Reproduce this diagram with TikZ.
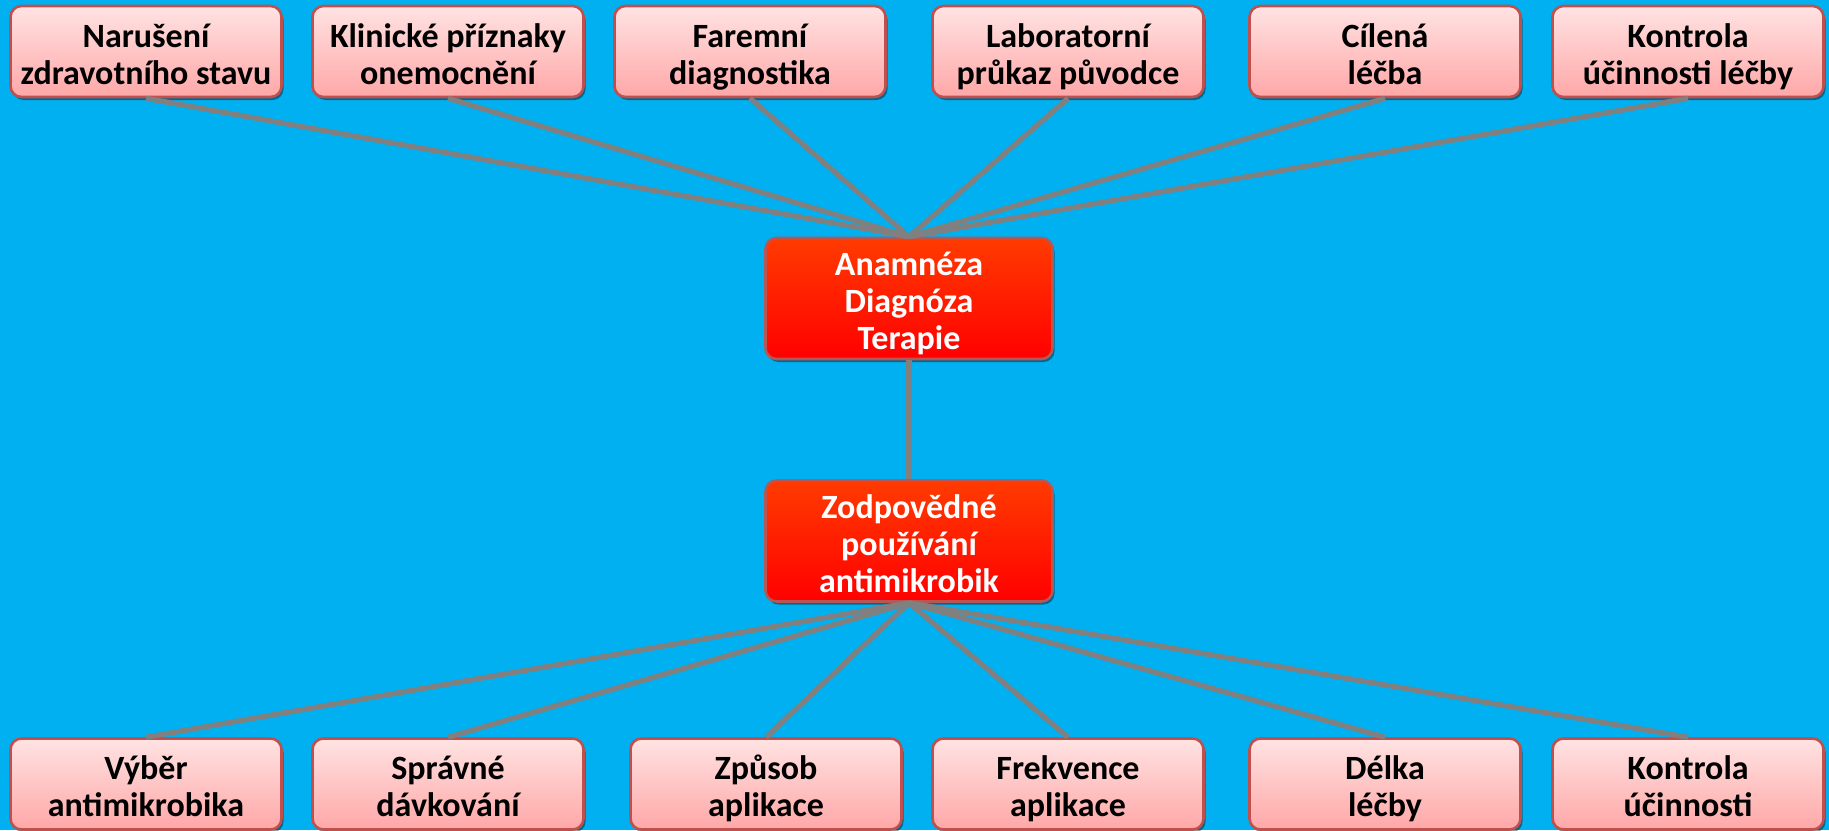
\documentclass[tikz,border=0pt]{standalone}
\usepackage{fontspec}
\setmainfont{Carlito}
\usetikzlibrary{shadows}
\definecolor{skyblue}{HTML}{00B0F0}
\definecolor{boxline}{HTML}{C0504D}
\definecolor{paletop}{HTML}{FFE3E3}
\definecolor{palebot}{HTML}{FFA7A7}
\definecolor{hottop}{HTML}{FF3B00}
\definecolor{hotbot}{HTML}{FF0000}
\definecolor{linkgray}{HTML}{808080}
% first-line lift, keeps the text a bit lower in the boxes
\newcommand{\hilift}{\rule{0pt}{18.5pt}}
\tikzset{
    every node/.append style={font=\fontsize{17}{18.5}\selectfont\bfseries, align=center,
        execute at end node={\rule[-4.5pt]{0pt}{4.5pt}}},
    palebox/.style={rectangle, rounded corners=5.5pt, draw=boxline, line width=1.3pt,
        top color=paletop, bottom color=palebot, text=black,
        minimum width=135.5pt, minimum height=45.5pt, inner sep=0pt,
        drop shadow={shadow xshift=1pt, shadow yshift=-1.5pt, opacity=0.4, fill=black}},
    hotbox/.style={palebox, top color=hottop, bottom color=hotbot, draw=boxline!85!gray,
        text=white, minimum width=143.5pt, minimum height=60.5pt},
    link/.style={draw=linkgray, line width=2.6pt}
}

\begin{document}
\begin{tikzpicture}[x=0.5pt,y=-0.5pt]
	    \fill[skyblue] (0,0) rectangle (1829,830);
	    \useasboundingbox (0,0) rectangle (1829,830);
	    % top row
	    \node[palebox] (narus) at (146,51.5) {\hilift Narušení\\zdravotního stavu};
	    \node[palebox] (klin) at (448,51.5) {\hilift Klinické příznaky\\onemocnění};
	    \node[palebox] (farm) at (750,51.5) {\hilift Faremní\\diagnostika};
	    \node[palebox] (lab) at (1068,51.5) {\hilift Laboratorní\\průkaz původce};
	    \node[palebox] (cil) at (1385,51.5) {\hilift Cílená\\léčba};
	    \node[palebox] (kontl) at (1688,51.5) {\hilift Kontrola\\účinnosti léčby};
	    % middle
	    \node[hotbox] (anam) at (909,298.5) {\hilift Anamnéza\\Diagnóza\\Terapie};
	    \node[hotbox] (zodp) at (909,541) {\hilift Zodpovědné\\používání\\antimikrobik};
	    % bottom row
	    \node[palebox] (vyb) at (146,784) {\hilift Výběr\\antimikrobika};
	    \node[palebox] (davk) at (448,784) {\hilift Správné\\dávkování};
	    \node[palebox] (zpus) at (766,784) {\hilift Způsob\\aplikace};
	    \node[palebox] (frek) at (1068,784) {\hilift Frekvence\\aplikace};
	    \node[palebox] (delk) at (1385,784) {\hilift Délka\\léčby};
	    \node[palebox] (kontu) at (1688,784) {\hilift Kontrola\\účinnosti};
	    % links
	    \draw[link] (narus.south) -- (anam.north);
	    \draw[link] (klin.south) -- (anam.north);
	    \draw[link] (farm.south) -- (anam.north);
	    \draw[link] (lab.south) -- (anam.north);
	    \draw[link] (cil.south) -- (anam.north);
	    \draw[link] (kontl.south) -- (anam.north);
	    \draw[link] (anam.south) -- (zodp.north);
	    \draw[link] (zodp.south) -- (vyb.north);
	    \draw[link] (zodp.south) -- (davk.north);
	    \draw[link] (zodp.south) -- (zpus.north);
	    \draw[link] (zodp.south) -- (frek.north);
	    \draw[link] (zodp.south) -- (delk.north);
	    \draw[link] (zodp.south) -- (kontu.north);
	\end{tikzpicture}
\end{document}
